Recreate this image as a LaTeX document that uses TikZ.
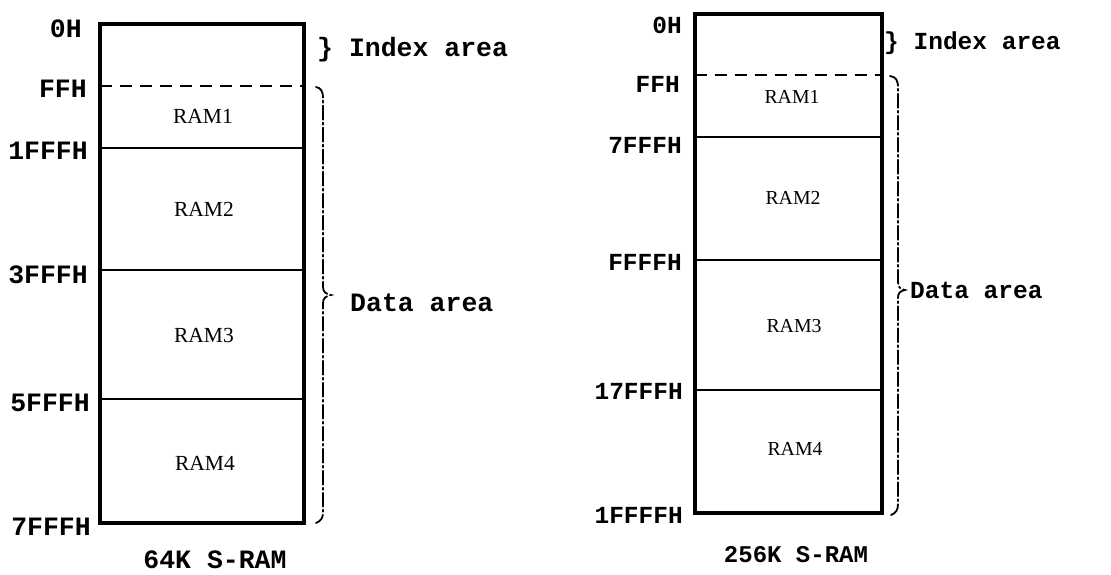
\documentclass[tikz,border=0pt]{standalone}
\usepackage{fontspec}
\setmainfont{Liberation Serif}
\setmonofont{Liberation Mono}
\begin{document}
\begin{tikzpicture}[x=1pt,y=-1pt,
  frame/.style={line width=3.2pt, line join=miter},
  sepline/.style={line width=2.2pt},
  idxline/.style={line width=2.4pt, dash pattern=on 12pt off 8pt},
  bracepath/.style={line width=1.8pt, dash pattern=on 14pt off 3pt on 2pt off 3pt, line cap=round},
  addrL/.style={anchor=east, inner sep=0pt, font=\fontsize{26.5}{30}\selectfont\ttfamily\bfseries},
  addrR/.style={anchor=east, inner sep=0pt, font=\fontsize{24.5}{28}\selectfont\ttfamily\bfseries},
  ramL/.style={inner sep=0pt, font=\fontsize{21.5}{24}\selectfont},
  ramR/.style={inner sep=0pt, font=\fontsize{19.8}{22}\selectfont},
  noteL/.style={anchor=west, inner sep=0pt, font=\fontsize{26.5}{30}\selectfont\ttfamily\bfseries},
  noteR/.style={anchor=west, inner sep=0pt, font=\fontsize{24.5}{28}\selectfont\ttfamily\bfseries},
  capL/.style={inner sep=0pt, font=\fontsize{26.5}{30}\selectfont\ttfamily\bfseries},
  capR/.style={inner sep=0pt, font=\fontsize{24}{28}\selectfont\ttfamily\bfseries}
]
\useasboundingbox (0,0) rectangle (1111,574);

% ---------- left: 64K S-RAM ----------
\draw[frame] (100,24) rectangle (304,523);
\draw[idxline] (100,86) -- (304,86);
\draw[sepline] (100,148) -- (304,148);
\draw[sepline] (100,270) -- (304,270);
\draw[sepline] (100,399) -- (304,399);

\node[addrL] (l0) at (82,29) {0H};
\node[addrL] (l1) at (87,89) {FFH};
\node[addrL] (l2) at (88,151) {1FFFH};
\node[addrL] (l3) at (88,275) {3FFFH};
\node[addrL] (l4) at (90,403) {5FFFH};
\node[addrL] (l5) at (91,527) {7FFFH};

\node[ramL] (lr1) at (203,116) {RAM1};
\node[ramL] (lr2) at (204,209) {RAM2};
\node[ramL] (lr3) at (204,335) {RAM3};
\node[ramL] (lr4) at (205,463) {RAM4};

\node[noteL] (lidx) at (317,50) {\} Index area};
\draw[bracepath] (316,87) .. controls (321,88) and (323,91) .. (323,99)
  -- (323,287) .. controls (323,292) and (326,294) .. (331,295)
  .. controls (326,296) and (323,298) .. (323,303)
  -- (323,512) .. controls (323,518) and (321,521) .. (316,523);
\node[noteL] (ldata) at (350,303) {Data area};

\node[capL] (lcap) at (215,560) {64K S-RAM};

% ---------- right: 256K S-RAM ----------
\draw[frame] (695,14) rectangle (882,513);
\draw[idxline] (695,75) -- (882,75);
\draw[sepline] (695,137) -- (882,137);
\draw[sepline] (695,260) -- (882,260);
\draw[sepline] (695,390) -- (882,390);

\node[addrR] (r0) at (682,25) {0H};
\node[addrR] (r1) at (680,84) {FFH};
\node[addrR] (r2) at (682,145) {7FFFH};
\node[addrR] (r3) at (682,262) {FFFFH};
\node[addrR] (r4) at (683,391) {17FFFH};
\node[addrR] (r5) at (683,515) {1FFFFH};

\node[ramR] (rr1) at (792,97) {RAM1};
\node[ramR] (rr2) at (793,198) {RAM2};
\node[ramR] (rr3) at (794,326) {RAM3};
\node[ramR] (rr4) at (795,449) {RAM4};

\node[noteR] (ridx) at (884,43) {\} Index area};
\draw[bracepath] (890,76) .. controls (896,77) and (898,80) .. (898,88)
  -- (898,282) .. controls (898,287) and (900,289) .. (905,290)
  .. controls (900,291) and (898,293) .. (898,298)
  -- (898,504) .. controls (898,510) and (896,513) .. (891,515);
\node[noteR] (rdata) at (910,290) {Data area};

\node[capR] (rcap) at (796,555) {256K S-RAM};
\end{tikzpicture}
\end{document}
